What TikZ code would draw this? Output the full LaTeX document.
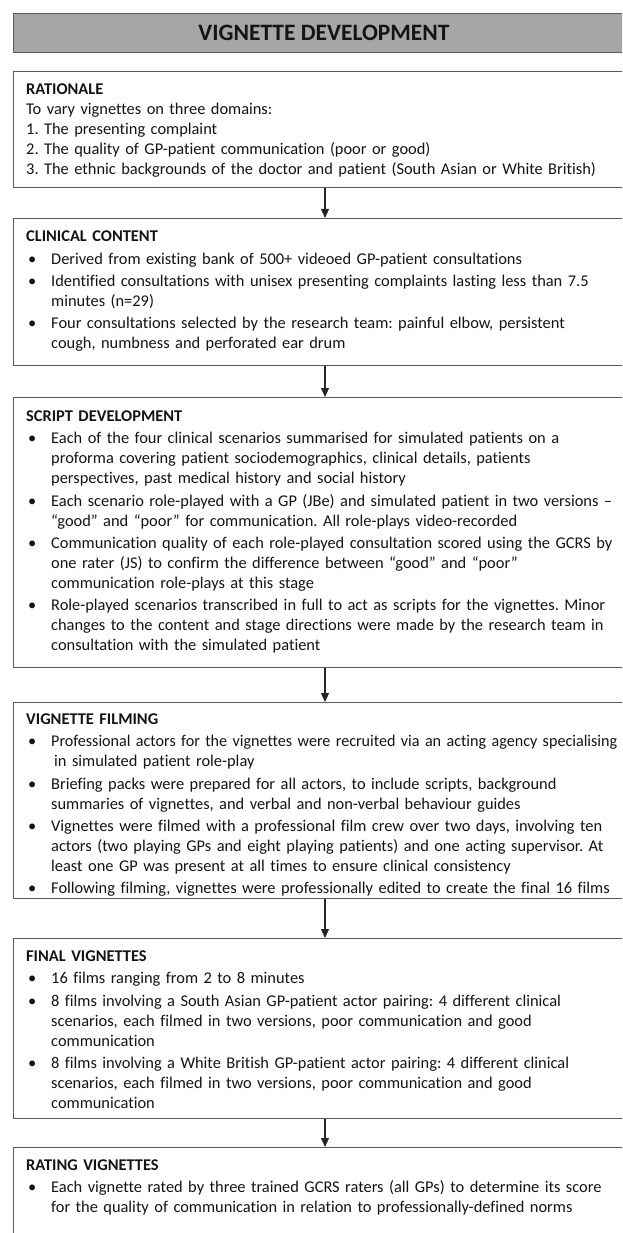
\documentclass[tikz,border=0pt]{standalone}
\usepackage{fontspec}
\usepackage{graphicx}
\setmainfont{Carlito}[Ligatures={NoCommon}]
\usetikzlibrary{arrows.meta}
\definecolor{bordc}{HTML}{5A5A5A}
\definecolor{titlefill}{HTML}{A6A6A6}
\definecolor{txtc}{HTML}{141414}
\newcommand\bgap{2.3pt}
\newcommand\bodyfont{\fontsize{16.4pt}{20pt}\selectfont\frenchspacing}
\newcommand\bitem[1]{\par\vspace{\bgap}\noindent\hangindent=25pt\hangafter=1\makebox[25pt][l]{\hspace{2pt}\textbullet}#1\par}
\newcommand\bhead[1]{\noindent\textbf{#1}\par}
\begin{document}
\begin{tikzpicture}[x=1pt,y=-1pt,
  box/.style={draw=bordc,line width=1.1pt,fill=white,anchor=north west,minimum width=720pt,inner sep=0pt},
  txt/.style={anchor=north west,inner sep=0pt,text width=640pt,font=\bodyfont,text=txtc},
  arr/.style={draw=black!85,line width=1.1pt,-{Triangle[width=8pt,length=9pt]}}]
\useasboundingbox (0,0) rectangle (622,1233);
\clip (0,0) rectangle (622,1233);
\fill[white] (0,0) rectangle (622,1233);
\coordinate (ax) at (325,0);
% boxes
\node[box,fill=titlefill,minimum height=39pt] (tb) at (13,13) {};
\node[box,minimum height=116pt] (b1) at (13,71) {};
\node[box,minimum height=147pt] (b2) at (13,218) {};
\node[box,minimum height=270pt] (b3) at (13,397) {};
\node[box,minimum height=196pt] (b4) at (13,702) {};
\node[box,minimum height=180pt] (b5) at (13,938) {};
\node[box,minimum height=120pt] (b6) at (13,1147) {};
% title
\node[font=\bfseries\fontsize{23.5pt}{28pt}\selectfont,text=txtc] (title) at (324,33) {VIGNETTE DEVELOPMENT};
% arrows
\draw[arr] (b1.south -| ax) -- (b2.north -| ax);
\draw[arr] (b2.south -| ax) -- (b3.north -| ax);
\draw[arr] (b3.south -| ax) -- (b4.north -| ax);
\draw[arr] (b4.south -| ax) -- (b5.north -| ax);
\draw[arr] (b5.south -| ax) -- (b6.north -| ax);
% texts
\node[txt] (t1) at (26,83.6) {\bhead{RATIONALE}\noindent To vary vignettes on three domains:\newline
1. The presenting complaint\newline
2. The quality of GP-patient communication (poor or good)\newline
3. The ethnic backgrounds of the doctor and patient (South Asian or White British)\par};
\node[txt] (t2) at (26,231) {\bhead{CLINICAL CONTENT}%
\bitem{Derived from existing bank of 500+ videoed GP-patient consultations}%
\bitem{Identified consultations with unisex presenting complaints lasting less than 7.5\newline minutes (n=29)}%
\bitem{Four consultations selected by the research team: painful elbow, persistent\newline cough, numbness and perforated ear drum}};
\node[txt] (t3) at (26,410.6) {\bhead{SCRIPT DEVELOPMENT}%
\bitem{Each of the four clinical scenarios summarised for simulated patients on a\newline proforma covering patient sociodemographics, clinical details, patients\newline perspectives, past medical history and social history}%
\bitem{Each scenario role-played with a GP (JBe) and simulated patient in two versions --\newline “good” and “poor” for communication. All role-plays video-recorded}%
\bitem{Communication quality of each role-played consultation scored using the GCRS by\newline one rater (JS) to confirm the difference between “good” and “poor”\newline communication role-plays at this stage}%
\bitem{Role-played scenarios transcribed in full to act as scripts for the vignettes. Minor\newline changes to the content and stage directions were made by the research team in\newline consultation with the simulated patient}};
\node[txt] (t4) at (26,713.6) {\bhead{VIGNETTE FILMING}%
\bitem{\resizebox{566pt}{\height}{Professional actors for the vignettes were recruited via an acting agency specialising}\newline \hspace*{3pt}in simulated patient role-play}%
\bitem{Briefing packs were prepared for all actors, to include scripts, background\newline summaries of vignettes, and verbal and non-verbal behaviour guides}%
\bitem{Vignettes were filmed with a professional film crew over two days, involving ten\newline actors (two playing GPs and eight playing patients) and one acting supervisor. At\newline least one GP was present at all times to ensure clinical consistency}%
\bitem{Following filming, vignettes were professionally edited to create the final 16 films}};
\node[txt] (t5) at (26,950.6) {\bhead{FINAL VIGNETTES}%
\bitem{16 films ranging from 2 to 8 minutes}%
\bitem{8 films involving a South Asian GP-patient actor pairing: 4 different clinical\newline scenarios, each filmed in two versions, poor communication and good\newline communication}%
\bitem{8 films involving a White British GP-patient actor pairing: 4 different clinical\newline scenarios, each filmed in two versions, poor communication and good\newline communication}};
\node[txt] (t6) at (26,1159.6) {\bhead{RATING VIGNETTES}%
\bitem{Each vignette rated by three trained GCRS raters (all GPs) to determine its score\newline for the quality of communication in relation to professionally-defined norms}};
\end{tikzpicture}
\end{document}
